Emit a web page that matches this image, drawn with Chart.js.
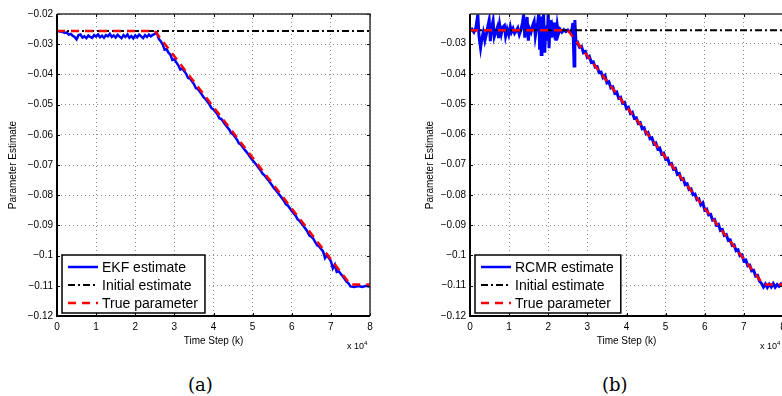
<!DOCTYPE html>
<html>
<head>
<meta charset="utf-8">
<script src="https://cdn.jsdelivr.net/npm/chart.js@4.4.1/dist/chart.umd.min.js"></script>
<style>
  html, body { margin: 0; padding: 0; background: #fff; }
  body { width: 782px; height: 396px; position: relative; overflow: hidden; font-family: "Liberation Sans", Arial, sans-serif; }
  canvas { position: absolute; top: 0; }
  #chartA { left: 0; }
  #chartB { left: 400px; }
  .mult { position: absolute; top: 340px; font-size: 9px; color: #000; }
  .mult sup { font-size: 6px; }
  .cap { position: absolute; top: 374px; font-family: "DejaVu Serif", serif; font-size: 18px; color: #000; }
</style>
</head>
<body>
<canvas id="chartA" width="390" height="352"></canvas>
<canvas id="chartB" width="400" height="352"></canvas>
<div class="mult" style="left:347px">x 10<sup>4</sup></div>
<div class="mult" style="left:760px">x 10<sup>4</sup></div>
<div class="cap" style="left:188px">(a)</div>
<div class="cap" style="left:602px">(b)</div>

<script>
// time step axis (units of 10^4)
const xTicks = [0, 1, 2, 3, 4, 5, 6, 7, 8];
const yTicksA = [-0.12, -0.11, -0.1, -0.09, -0.08, -0.07, -0.06, -0.05, -0.04, -0.03, -0.02];
const yTicksB = [-0.12, -0.11, -0.1, -0.09, -0.08, -0.07, -0.06, -0.05, -0.04, -0.03];

const trueStep = [0, 2.5, 7.5, 8];
const trueValue = [-0.0256, -0.0256, -0.1096, -0.1096];
const initStep = [0, 8];
const initValue = [-0.0256, -0.0256];

const ekfStep = [
  0, 0.05, 0.1, 0.15, 0.2, 0.25, 0.3, 0.35, 0.4, 0.45,
  0.5, 0.55, 0.6, 0.65, 0.7, 0.75, 0.8, 0.85, 0.9, 0.95,
  1.0, 1.05, 1.1, 1.15, 1.2, 1.25, 1.3, 1.35, 1.4, 1.45,
  1.5, 1.55, 1.6, 1.65, 1.7, 1.75, 1.8, 1.85, 1.9, 1.95,
  2.0, 2.05, 2.1, 2.15, 2.2, 2.25, 2.3, 2.35, 2.4, 2.45,
  2.5, 2.55, 2.6, 2.65, 2.7, 2.75, 2.8, 2.85, 2.9, 2.95,
  3.0, 3.05, 3.1, 3.15, 3.2, 3.3, 3.35, 3.4, 3.5, 3.55,
  3.6, 3.7, 3.75, 3.8, 3.9, 3.95, 4.0, 4.1, 4.15, 4.2,
  4.3, 4.4, 4.45, 4.5, 4.6, 4.65, 4.7, 4.8, 4.9, 4.95,
  5.0, 5.1, 5.2, 5.25, 5.3, 5.4, 5.5, 5.55, 5.6, 5.7,
  5.8, 5.85, 5.9, 6.0, 6.1, 6.15, 6.2, 6.3, 6.4, 6.45,
  6.5, 6.55, 6.6, 6.65, 6.7, 6.8, 6.85, 6.9, 7.0, 7.05,
  7.1, 7.15, 7.2, 7.3, 7.4, 7.45, 7.5, 7.6, 7.7, 7.8,
  7.9, 8.0
];
const ekfValue = [
  -0.0256, -0.0257, -0.0258, -0.0260, -0.0263, -0.0261, -0.0268, -0.0266, -0.0272, -0.0276,
  -0.0284, -0.0270, -0.0268, -0.0278, -0.0274, -0.0280, -0.0271, -0.0276, -0.0279, -0.0270,
  -0.0275, -0.0268, -0.0277, -0.0272, -0.0279, -0.0270, -0.0274, -0.0266, -0.0276, -0.0271,
  -0.0278, -0.0269, -0.0275, -0.0280, -0.0270, -0.0276, -0.0268, -0.0279, -0.0273, -0.0281,
  -0.0271, -0.0277, -0.0268, -0.0274, -0.0280, -0.0270, -0.0276, -0.0268, -0.0274, -0.0269,
  -0.0266, -0.0262, -0.0282, -0.0290, -0.0300, -0.0318, -0.0316, -0.0328, -0.0335, -0.0352,
  -0.0350, -0.0360, -0.0370, -0.0384, -0.0380, -0.0398, -0.0412, -0.0414, -0.0432, -0.0446,
  -0.0448, -0.0466, -0.0476, -0.0482, -0.0500, -0.0512, -0.0516, -0.0532, -0.0545, -0.0548,
  -0.0566, -0.0582, -0.0594, -0.0598, -0.0616, -0.0628, -0.0632, -0.0650, -0.0666, -0.0676,
  -0.0684, -0.0700, -0.0717, -0.0728, -0.0734, -0.0750, -0.0768, -0.0778, -0.0784, -0.0801,
  -0.0818, -0.0830, -0.0834, -0.0852, -0.0868, -0.0880, -0.0885, -0.0902, -0.0920, -0.0934,
  -0.0937, -0.0944, -0.0955, -0.0966, -0.0970, -0.0986, -0.1008, -0.0998, -0.1018, -0.1042,
  -0.1030, -0.1054, -0.1052, -0.1068, -0.1086, -0.1092, -0.1102, -0.1104, -0.1101, -0.1104,
  -0.1100, -0.1103
];

const rcmrStep = [
  0, 0.05, 0.1, 0.15, 0.2, 0.23, 0.27, 0.3, 0.34, 0.38,
  0.42, 0.46, 0.49, 0.52, 0.55, 0.59, 0.62, 0.66, 0.7, 0.73,
  0.76, 0.8, 0.84, 0.88, 0.91, 0.95, 0.99, 1.03, 1.06, 1.1,
  1.14, 1.18, 1.22, 1.26, 1.3, 1.34, 1.37, 1.4, 1.43, 1.46,
  1.49, 1.52, 1.56, 1.6, 1.64, 1.67, 1.7, 1.73, 1.76, 1.78,
  1.8, 1.82, 1.84, 1.86, 1.88, 1.91, 1.94, 1.97, 2.0, 2.02,
  2.05, 2.08, 2.11, 2.14, 2.17, 2.2, 2.23, 2.26, 2.3, 2.35,
  2.4, 2.45, 2.5, 2.55, 2.6, 2.63, 2.66, 2.68, 2.71,
  2.75, 2.8, 2.85, 2.9, 2.95, 3.0, 3.05, 3.1, 3.15, 3.2,
  3.25, 3.3, 3.35, 3.4, 3.45, 3.5, 3.55, 3.6, 3.65, 3.7,
  3.75, 3.8, 3.85, 3.9, 3.95, 4.0, 4.05, 4.1, 4.15, 4.2,
  4.25, 4.3, 4.35, 4.4, 4.45, 4.5, 4.55, 4.6, 4.65, 4.7,
  4.75, 4.8, 4.85, 4.9, 4.95, 5.0, 5.05, 5.1, 5.15, 5.2,
  5.25, 5.3, 5.35, 5.4, 5.45, 5.5, 5.55, 5.6, 5.65, 5.7,
  5.75, 5.8, 5.85, 5.9, 5.95, 6.0, 6.05, 6.1, 6.15, 6.2,
  6.25, 6.3, 6.35, 6.4, 6.45, 6.5, 6.55, 6.6, 6.65, 6.7,
  6.75, 6.8, 6.85, 6.9, 6.95, 7.0, 7.05, 7.1, 7.15, 7.2,
  7.25, 7.3, 7.35, 7.4, 7.45, 7.5, 7.55, 7.6, 7.65, 7.7,
  7.75, 7.8, 7.85, 7.9, 7.95, 8.0
];
const rcmrValue = [
  -0.0256, -0.0252, -0.0262, -0.0248, -0.0203, -0.0275, -0.0314, -0.0285, -0.0262, -0.0290,
  -0.0268, -0.0240, -0.0222, -0.0292, -0.0250, -0.0224, -0.0278, -0.0262, -0.0246, -0.0282,
  -0.0238, -0.0268, -0.0245, -0.0240, -0.0275, -0.0252, -0.0270, -0.0244, -0.0262, -0.0250,
  -0.0266, -0.0258, -0.0248, -0.0270, -0.0255, -0.0232, -0.0206, -0.0280, -0.0238, -0.0212,
  -0.0290, -0.0250, -0.0262, -0.0240, -0.0226, -0.0275, -0.0250, -0.0230, -0.0196, -0.0320,
  -0.0250, -0.0336, -0.0210, -0.0300, -0.0195, -0.0330, -0.0240, -0.0290, -0.0195, -0.0315,
  -0.0222, -0.0280, -0.0245, -0.0262, -0.0230, -0.0290, -0.0240, -0.0268, -0.0252, -0.0262,
  -0.0254, -0.0260, -0.0255, -0.0262, -0.0258, -0.0232, -0.0374, -0.0222, -0.0300,
  -0.0296, -0.0312, -0.0309, -0.0330, -0.0326, -0.0346, -0.0342, -0.0362, -0.0360, -0.0378,
  -0.0376, -0.0396, -0.0394, -0.0412, -0.0405, -0.0430, -0.0426, -0.0446, -0.0443, -0.0464,
  -0.0460, -0.0480, -0.0477, -0.0497, -0.0494, -0.0514, -0.0510, -0.0531, -0.0527, -0.0547,
  -0.0545, -0.0564, -0.0561, -0.0581, -0.0578, -0.0598, -0.0594, -0.0614, -0.0611, -0.0631,
  -0.0628, -0.0648, -0.0645, -0.0665, -0.0662, -0.0682, -0.0679, -0.0698, -0.0696, -0.0715,
  -0.0712, -0.0732, -0.0729, -0.0749, -0.0746, -0.0766, -0.0763, -0.0782, -0.0780, -0.0799,
  -0.0797, -0.0816, -0.0813, -0.0833, -0.0826, -0.0850, -0.0847, -0.0866, -0.0864, -0.0883,
  -0.0881, -0.0900, -0.0897, -0.0917, -0.0914, -0.0934, -0.0931, -0.0950, -0.0948, -0.0967,
  -0.0965, -0.0984, -0.0981, -0.1001, -0.0998, -0.1018, -0.1015, -0.1034, -0.1032, -0.1051,
  -0.1049, -0.1068, -0.1066, -0.1085, -0.1092, -0.1104, -0.1094, -0.1106, -0.1095, -0.1104,
  -0.1093, -0.1105, -0.1096, -0.1102, -0.1094, -0.1100
];

Chart.defaults.font.family = '"Liberation Sans", Arial, sans-serif';
Chart.defaults.color = '#000';

const toPoints = (steps, vals) => steps.map((k, i) => ({ x: k, y: vals[i] }));
const fmtY = v => String(Math.round(v * 100) / 100).replace('-', '\u2212');

// axes box + inward tick marks like matlab
const frame = {
  id: 'frame',
  afterDatasetsDraw(chart) {
    const { ctx, chartArea: { left, right, top, bottom }, scales: { x, y } } = chart;
    ctx.save();
    ctx.strokeStyle = '#000';
    ctx.lineWidth = 1;
    ctx.beginPath();
    x.ticks.forEach(t => {
      const px = Math.round(x.getPixelForValue(t.value)) + 0.5;
      ctx.moveTo(px, bottom); ctx.lineTo(px, bottom - 3);
      ctx.moveTo(px, top); ctx.lineTo(px, top + 3);
    });
    y.ticks.forEach(t => {
      const py = Math.round(y.getPixelForValue(t.value)) + 0.5;
      ctx.moveTo(left, py); ctx.lineTo(left + 3, py);
      ctx.moveTo(right, py); ctx.lineTo(right - 3, py);
    });
    ctx.stroke();
    ctx.strokeStyle = '#333';
    ctx.lineWidth = 1.5;
    ctx.beginPath();
    ctx.moveTo(left, top); ctx.lineTo(right, top); ctx.lineTo(right, bottom);
    ctx.stroke();
    ctx.strokeStyle = '#000';
    ctx.lineWidth = 2;
    ctx.beginPath();
    ctx.moveTo(left, top); ctx.lineTo(left, bottom); ctx.lineTo(right, bottom);
    ctx.stroke();
    ctx.restore();
  }
};

// boxed legend in the lower left corner of the axes
const boxLegend = {
  id: 'boxLegend',
  afterDraw(chart) {
    const { ctx, chartArea } = chart;
    const items = chart.data.datasets;
    ctx.save();
    ctx.font = '14px "Liberation Sans", Arial, sans-serif';
    const tw = Math.max(...items.map(d => ctx.measureText(d.label).width));
    const w = 40 + tw + 7, h = 58;
    const x0 = chartArea.left + 5, y0 = chartArea.bottom - 3 - h;
    ctx.fillStyle = '#fff';
    ctx.fillRect(x0, y0, w, h);
    ctx.strokeStyle = '#000';
    ctx.lineWidth = 1.5;
    ctx.strokeRect(x0, y0, w, h);
    items.forEach((d, r) => {
      const cy = y0 + 12 + r * 18;
      ctx.beginPath();
      ctx.setLineDash(d.borderDash || []);
      ctx.lineWidth = Math.min(d.borderWidth, 2.5);
      ctx.strokeStyle = d.borderColor;
      ctx.moveTo(x0 + 6, cy); ctx.lineTo(x0 + 36, cy);
      ctx.stroke();
      ctx.setLineDash([]);
      ctx.fillStyle = '#000';
      ctx.textBaseline = 'middle';
      ctx.fillText(d.label, x0 + 40, cy + 1);
    });
    ctx.restore();
  }
};

function makeChart(id, estLabel, estStep, estValue, estWidth, yTicks, yMax, yWidth, yTitlePad, padRight) {
  return new Chart(document.getElementById(id), {
    type: 'line',
    data: {
      datasets: [
        { label: estLabel, data: toPoints(estStep, estValue), borderColor: '#0000ff', borderWidth: estWidth, order: 3 },
        { label: 'Initial estimate', data: toPoints(initStep, initValue), borderColor: '#000', borderWidth: 2, borderDash: [7, 3, 2, 3], order: 2 },
        { label: 'True parameter', data: toPoints(trueStep, trueValue), borderColor: '#ff0000', borderWidth: 2.5, borderDash: [8, 6], order: 1 }
      ]
    },
    options: {
      responsive: false,
      animation: false,
      devicePixelRatio: 1,
      layout: { padding: { left: 0, top: 14, right: padRight, bottom: 0 } },
      elements: { point: { radius: 0 }, line: { tension: 0 } },
      plugins: { legend: { display: false }, tooltip: { enabled: false } },
      scales: {
        x: {
          type: 'linear', min: 0, max: 8,
          afterBuildTicks: s => { s.ticks = xTicks.map(v => ({ value: v })); },
          afterFit: s => { s.height = 36; },
          grid: { color: '#8c8c8c', lineWidth: 1, drawTicks: false },
          border: { display: false, dash: [1, 3] },
          ticks: { padding: 5, maxRotation: 0, font: { size: 10 }, callback: v => String(v) },
          title: { display: true, text: 'Time Step (k)', font: { size: 10 }, padding: { top: 0, bottom: 5 } }
        },
        y: {
          type: 'linear', min: -0.12, max: yMax,
          afterBuildTicks: s => { s.ticks = yTicks.map(v => ({ value: v })); },
          afterFit: s => { s.width = yWidth; },
          grid: { color: '#8c8c8c', lineWidth: 1, drawTicks: false },
          border: { display: false, dash: [1, 3] },
          ticks: { padding: 4, font: { size: 10 }, callback: v => fmtY(v) },
          title: { display: true, text: 'Parameter Estimate', font: { size: 10 }, padding: { top: yTitlePad, bottom: 0 } }
        }
      }
    },
    plugins: [frame, boxLegend]
  });
}

makeChart('chartA', 'EKF estimate', ekfStep, ekfValue, 2.5, yTicksA, -0.02, 57, 7, 20);
makeChart('chartB', 'RCMR estimate', rcmrStep, rcmrValue, 3, yTicksB, -0.0202, 70, 24, 17);
</script>
</body>
</html>
